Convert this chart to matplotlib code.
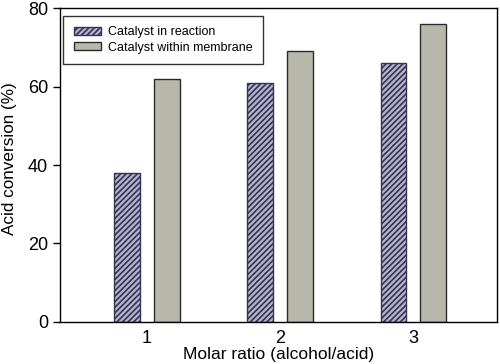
import matplotlib
matplotlib.use("Agg")
import matplotlib.pyplot as plt
import numpy as np

plt.rcParams['font.family'] = ['Liberation Sans', 'DejaVu Sans']
plt.rcParams['hatch.linewidth'] = 1.2

categories = ['1', '2', '3']
reaction = [38, 61, 66]
membrane = [62, 69, 76]
labels = ['Catalyst in reaction', 'Catalyst within membrane']

fig = plt.figure(figsize=(5, 3.64), dpi=100)
ax = fig.add_axes([0.12, 0.1154, 0.874, 0.8626])

x = np.arange(1, len(categories) + 1)
w = 0.19
off = 0.15
plt.rcParams['hatch.color'] = '#34344e'
ax.bar(x - off, reaction, w, facecolor='#b4b4d2', edgecolor='#34344e', hatch='//////', linewidth=1.0, label=labels[0])
ax.bar(x + off, membrane, w, facecolor='#b8b8aa', edgecolor='#2a2a2a', linewidth=1.0, label=labels[1])

ax.set_xlim(0.346, 3.63)
ax.set_ylim(0, 80)
ax.set_yticks([0, 20, 40, 60, 80])
ax.set_xticks(x)
ax.set_xticklabels(categories)
ax.tick_params(axis='x', length=0, labelsize=13, pad=6)
ax.tick_params(axis='y', direction='out', length=5, labelsize=13, width=1)
for s in ax.spines.values():
    s.set_linewidth(1.0)
ax.set_xlabel('Molar ratio (alcohol/acid)', fontsize=12.5, labelpad=0)
ax.set_ylabel('Acid conversion (%)', fontsize=12.3)
ax.yaxis.set_label_coords(-0.098, 0.52)

leg = ax.legend(loc='upper left', bbox_to_anchor=(0.007, 0.975), fontsize=9, frameon=True,
                fancybox=False, edgecolor='black', handlelength=2.2, handleheight=0.55,
                borderpad=0.85, labelspacing=0.25, handletextpad=0.55, borderaxespad=0)
leg.get_frame().set_linewidth(1.0)

fig.savefig('out.png', dpi=100)
